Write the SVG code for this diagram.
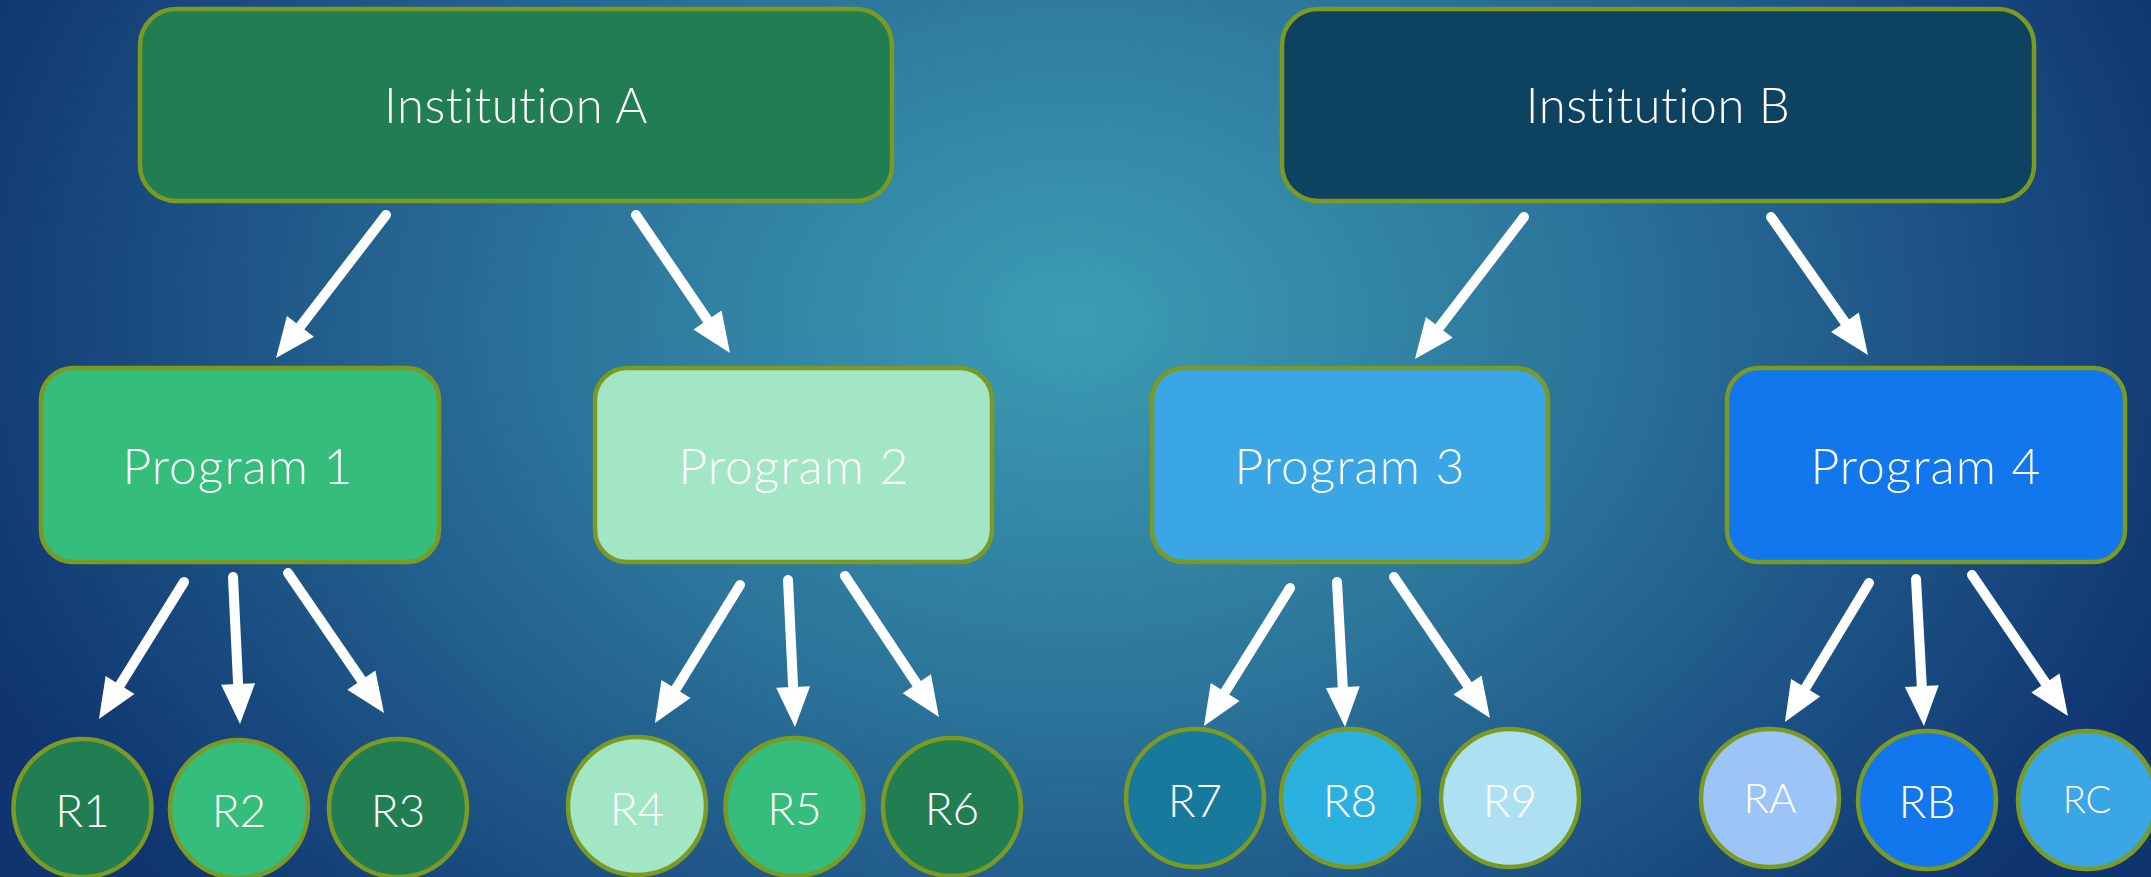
<svg xmlns="http://www.w3.org/2000/svg" width="2151" height="877" viewBox="0 0 2151 877">
  <defs>
    <radialGradient id="bg" gradientUnits="userSpaceOnUse" cx="1075" cy="320" r="1180" gradientTransform="translate(1075 320) scale(1 0.75) translate(-1075 -320)">
      <stop offset="0" stop-color="#3c9db3"/>
      <stop offset="0.45" stop-color="#2b739a"/>
      <stop offset="1" stop-color="#0f3470"/>
    </radialGradient>
    <marker id="ah" markerUnits="userSpaceOnUse" markerWidth="44" markerHeight="40" refX="2" refY="20" orient="auto" overflow="visible">
      <path d="M0,3 L40,20 L0,37 Z" fill="#ffffff"/>
    </marker>
    <style>
      .box { stroke: #7a9a22; stroke-width: 4.5; }
      .lbl { font-family: Lato, "Open Sans", "Liberation Sans", sans-serif; font-weight: 300; fill: #ffffff; text-anchor: middle; }
      .big { font-size: 49px; letter-spacing: 0.5px; }
      .mid { font-size: 50px; letter-spacing: 1px; }
      .sm { font-size: 46px; }
      .conn line { stroke: #ffffff; stroke-width: 10; stroke-linecap: round; marker-end: url(#ah); }
    </style>
  </defs>
  <rect x="0" y="0" width="2151" height="877" fill="url(#bg)"/>

  <g id="instA"><rect class="box" x="140" y="9" width="752" height="192" rx="36" fill="#217d52"/><text class="lbl big" x="516" y="123">Institution A</text></g>
  <g id="instB"><rect class="box" x="1282" y="9" width="752" height="192" rx="36" fill="#0d4261"/><text class="lbl big" x="1658" y="123">Institution B</text></g>

  <g id="prog1"><rect class="box" x="41" y="368" width="398" height="194" rx="32" fill="#34bd7b"/><text class="lbl mid" x="238" y="484">Program 1</text></g>
  <g id="prog2"><rect class="box" x="595" y="368" width="397" height="194" rx="32" fill="#a3e6c6"/><text class="lbl mid" x="794" y="484">Program 2</text></g>
  <g id="prog3"><rect class="box" x="1152" y="368" width="396" height="194" rx="32" fill="#3ba6e6"/><text class="lbl mid" x="1350" y="484">Program 3</text></g>
  <g id="prog4"><rect class="box" x="1727" y="368" width="398" height="194" rx="32" fill="#1276ec"/><text class="lbl mid" x="1926" y="484">Program 4</text></g>

  <g id="r1"><circle class="box" cx="82.5" cy="808" r="69" fill="#217d52"/><text class="lbl sm" x="82.5" y="827">R1</text></g>
  <g id="r2"><circle class="box" cx="239" cy="809" r="69" fill="#34bd7b"/><text class="lbl sm" x="239" y="827">R2</text></g>
  <g id="r3"><circle class="box" cx="398" cy="808" r="69" fill="#217d52"/><text class="lbl sm" x="398" y="827">R3</text></g>
  <g id="r4"><circle class="box" cx="637" cy="806" r="69" fill="#a3e6c6"/><text class="lbl sm" x="637" y="825">R4</text></g>
  <g id="r5"><circle class="box" cx="794.5" cy="807" r="69" fill="#34bd7b"/><text class="lbl sm" x="794.5" y="825">R5</text></g>
  <g id="r6"><circle class="box" cx="952" cy="807" r="69" fill="#217d52"/><text class="lbl sm" x="952" y="825">R6</text></g>
  <g id="r7"><circle class="box" cx="1195" cy="798" r="69" fill="#177a9c"/><text class="lbl sm" x="1195" y="817">R7</text></g>
  <g id="r8"><circle class="box" cx="1350" cy="798" r="69" fill="#2bb1e0"/><text class="lbl sm" x="1350" y="817">R8</text></g>
  <g id="r9"><circle class="box" cx="1510" cy="798" r="69" fill="#ade1f2"/><text class="lbl sm" x="1510" y="817">R9</text></g>
  <g id="rA"><circle class="box" cx="1770" cy="798" r="69" fill="#9dc4f7"/><text class="lbl" style="font-size:42px" x="1770" y="813">RA</text></g>
  <g id="rB"><circle class="box" cx="1927" cy="800" r="69" fill="#1276ec"/><text class="lbl sm" x="1927" y="818">RB</text></g>
  <g id="rC"><circle class="box" cx="2087" cy="800" r="69" fill="#3ba6e6"/><text class="lbl" style="font-size:38px" x="2087" y="813">RC</text></g>

  <g id="connectors" class="conn">
    <line x1="386" y1="215" x2="299.2" y2="327.9"/>
    <line x1="636" y1="215" x2="708.6" y2="321.6"/>
    <line x1="1524" y1="217" x2="1438.1" y2="328.9"/>
    <line x1="1771" y1="217" x2="1846.1" y2="323.9"/>
    <line x1="184" y1="582" x2="119.0" y2="686.7"/>
    <line x1="233" y1="577" x2="238.2" y2="686.0"/>
    <line x1="288" y1="573" x2="362.5" y2="681.7"/>
    <line x1="740" y1="585" x2="674.9" y2="690.7"/>
    <line x1="788" y1="580" x2="793.2" y2="689.0"/>
    <line x1="845" y1="576" x2="917.9" y2="685.4"/>
    <line x1="1290" y1="588" x2="1224.1" y2="693.7"/>
    <line x1="1337" y1="582" x2="1342.9" y2="689.1"/>
    <line x1="1394" y1="577" x2="1468.6" y2="686.6"/>
    <line x1="1869" y1="583" x2="1804.6" y2="689.5"/>
    <line x1="1916" y1="579" x2="1921.9" y2="688.1"/>
    <line x1="1972" y1="575" x2="2046.6" y2="684.6"/>
  </g>
</svg>
